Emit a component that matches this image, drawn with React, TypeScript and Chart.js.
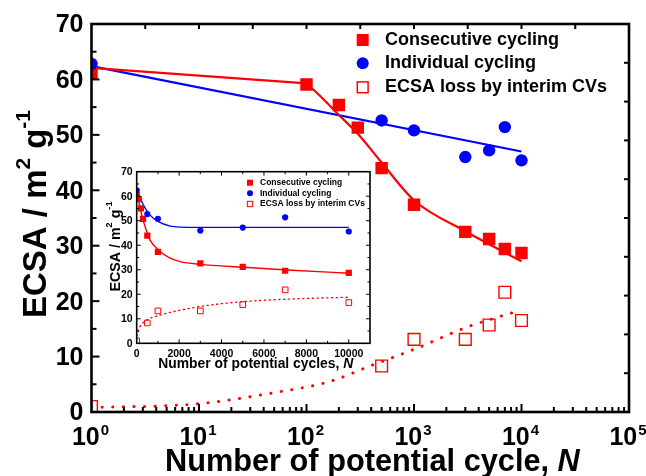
import React, { useEffect, useRef } from "react";
import { Chart, registerables } from "chart.js";
Chart.register(...registerables);

const FONT = '"Liberation Sans", Arial, Helvetica, sans-serif';
const RED = "#ff0000";
const BLUE = "#0000ff";

// ---------- main plot (log x) ----------
const consecCycles = [1, 100, 200, 300, 500, 1000, 3000, 5000, 7000, 10000];
const consecECSA = [61, 59.1, 55.4, 51.3, 44, 37.4, 32.5, 31.2, 29.4, 28.7];
const indivCycles = [1, 500, 1000, 3000, 5000, 7000, 10000];
const indivECSA = [62.8, 52.6, 50.8, 46, 47.2, 51.4, 45.4];
const lossCycles = [1, 500, 1000, 3000, 5000, 7000, 10000];
const lossECSA = [1, 8.3, 13.1, 13.1, 15.7, 21.6, 16.5];

const consecFitHeadCycles = [1, 100];
const consecFitHeadECSA = [62.1, 59.3];
const consecFitCycles = [100, 134, 200, 300, 500, 1000, 3000, 10000];
const consecFitECSA = [59.3, 57.0, 53.6, 50.2, 45, 38.2, 32.6, 27.2];
const indivFitCycles = [1, 10000];
const indivFitECSA = [62.4, 47];
const lossFitCycles = [1, 10, 50, 165, 390, 1000, 3100, 6000, 10000];
const lossFitECSA = [0.8, 1.5, 3.5, 5.5, 8.3, 11.3, 15.3, 17.1, 18.4];

const mainYTicks = [0, 10, 20, 30, 40, 50, 60, 70];
const mainXDecades = [0, 1, 2, 3, 4, 5];

// ---------- inset plot (linear x) ----------
const insetConsecCycles = [0, 100, 200, 300, 500, 1000, 3000, 5000, 7000, 10000];
const insetConsecECSA = [60.5, 58.8, 55, 50.8, 43.9, 37.3, 32.6, 31.2, 29.6, 28.7];
const insetIndivCycles = [0, 500, 1000, 3000, 5000, 7000, 10000];
const insetIndivECSA = [62.4, 52.7, 50.8, 46, 47.2, 51.4, 45.6];
const insetLossCycles = [0, 500, 1000, 3000, 5000, 7000, 10000];
const insetLossECSA = [1, 8.3, 13.2, 13.2, 15.8, 21.8, 16.6];

const insetConsecFitCycles = [0, 236, 394, 630, 1024, 1575, 2047, 2992, 5039, 7087, 10000];
const insetConsecFitECSA = [62, 52.3, 47.6, 42.1, 38.1, 34.7, 33.3, 32.2, 31, 29.9, 28.6];
const insetIndivFitCycles = [0, 315, 630, 1024, 1575, 2047, 3000, 10000];
const insetIndivFitECSA = [62.8, 56.4, 52.3, 49.6, 47.8, 47.4, 47.3, 47.3];
const insetLossFitCycles = [0, 157, 472, 1024, 2990, 5040, 7090, 10000];
const insetLossFitECSA = [3, 6.8, 9.5, 11.3, 15, 17, 18, 18.8];

const insetXTicks = [0, 2000, 4000, 6000, 8000, 10000];
const insetYTicks = [0, 10, 20, 30, 40, 50, 60, 70];

const legendLabels = ["Consecutive cycling", "Individual cycling", "ECSA loss by interim CVs"];

const xy = (xs: number[], ys: number[]) => xs.map((x, i) => ({ x, y: ys[i] }));

type Part = { t: string; size: number; rise?: number; italic?: boolean };
const fnt = (p: Part) => `${p.italic ? "italic " : ""}bold ${p.size}px ${FONT}`;
function richWidth(ctx: CanvasRenderingContext2D, parts: Part[]) {
  let w = 0;
  for (const p of parts) {
    ctx.font = fnt(p);
    w += ctx.measureText(p.t).width;
  }
  return w;
}
function drawRich(ctx: CanvasRenderingContext2D, parts: Part[], x: number, y: number) {
  let cx = x;
  for (const p of parts) {
    ctx.font = fnt(p);
    ctx.fillText(p.t, cx, y - (p.rise || 0));
    cx += ctx.measureText(p.t).width;
  }
}
const scaleParts = (parts: Part[], k: number) =>
  parts.map((p) => ({ ...p, size: p.size * k, rise: (p.rise || 0) * k }));

function seg(ctx: CanvasRenderingContext2D, x1: number, y1: number, x2: number, y2: number) {
  ctx.beginPath();
  ctx.moveTo(x1, y1);
  ctx.lineTo(x2, y2);
  ctx.stroke();
}
function drawLegend(
  ctx: CanvasRenderingContext2D,
  mx: number,
  tx: number,
  rows: number[],
  size: number,
  mk: number
) {
  ctx.textAlign = "left";
  ctx.textBaseline = "middle";
  ctx.font = `bold ${size}px ${FONT}`;
  ctx.fillStyle = "#000";
  legendLabels.forEach((l, i) => ctx.fillText(l, tx, rows[i]));
  ctx.fillStyle = RED;
  ctx.fillRect(mx - mk / 2, rows[0] - mk / 2, mk, mk);
  ctx.fillStyle = BLUE;
  ctx.beginPath();
  ctx.arc(mx, rows[1], mk / 2, 0, Math.PI * 2);
  ctx.fill();
  ctx.strokeStyle = RED;
  ctx.lineWidth = Math.max(1, mk / 8);
  const o = mk * 0.9;
  ctx.strokeRect(mx - o / 2, rows[2] - o / 2, o, o);
}

const mainDecor = {
  id: "mainDecor",
  afterDatasetsDraw(chart: any) {
    const ctx: CanvasRenderingContext2D = chart.ctx;
    const a = chart.chartArea;
    const xs = chart.scales.x;
    const ys = chart.scales.y;
    ctx.save();
    ctx.strokeStyle = "#000";
    ctx.fillStyle = "#000";
    ctx.lineWidth = 2;
    for (let v = 5; v < 70; v += 5) {
      const y = ys.getPixelForValue(v);
      seg(ctx, a.left, y, a.left + (v % 10 === 0 ? 8 : 5), y);
    }
    for (let d = 0; d < 5; d++) {
      for (let m = 1; m <= 9; m++) {
        const v = m * Math.pow(10, d);
        if (v === 1) continue;
        const x = xs.getPixelForValue(v);
        seg(ctx, x, a.bottom, x, a.bottom - (m === 1 ? 8 : 5));
      }
    }
    for (let i = 1; i < 10; i++) {
      const x = a.left + ((a.right - a.left) * i) / 10;
      seg(ctx, x, a.top, x, a.top + 5);
      const y = a.top + ((a.bottom - a.top) * i) / 10;
      seg(ctx, a.right, y, a.right - 5, y);
    }
    ctx.lineWidth = 2.6;
    ctx.strokeRect(a.left, a.top, a.right - a.left, a.bottom - a.top);

    ctx.font = `bold 25px ${FONT}`;
    ctx.textAlign = "right";
    ctx.textBaseline = "middle";
    for (const v of mainYTicks) ctx.fillText(String(v), a.left - 8, ys.getPixelForValue(v) + 1.5);

    ctx.textAlign = "left";
    ctx.textBaseline = "alphabetic";
    for (const d of mainXDecades) {
      const x = xs.getPixelForValue(Math.pow(10, d));
      ctx.font = `bold 25px ${FONT}`;
      const w = ctx.measureText("10").width;
      ctx.font = `bold 15px ${FONT}`;
      const ws = ctx.measureText(String(d)).width;
      const x0 = x - (w + 1 + ws) / 2 - 1;
      ctx.font = `bold 25px ${FONT}`;
      ctx.fillText("10", x0, 445);
      ctx.font = `bold 15px ${FONT}`;
      ctx.fillText(String(d), x0 + w + 1, 435);
    }

    const base: Part[] = [
      { t: "Number of potential cycle, ", size: 30 },
      { t: "N", size: 30, italic: true },
    ];
    const w0 = richWidth(ctx, base);
    drawRich(ctx, scaleParts(base, 415 / w0), 165, 471);

    const yParts: Part[] = [
      { t: "ECSA / m", size: 30 },
      { t: "2", size: 19, rise: 15 },
      { t: " g", size: 30 },
      { t: "-1", size: 19, rise: 15 },
    ];
    const tw0 = richWidth(ctx, yParts);
    const yp = scaleParts(yParts, 208 / tw0);
    const tw = richWidth(ctx, yp);
    ctx.save();
    ctx.translate(46, 214);
    ctx.rotate(-Math.PI / 2);
    drawRich(ctx, yp, -tw / 2, 0);
    ctx.restore();

    drawLegend(ctx, 362.7, 385, [40, 63.3, 87.3], 18, 12);
    ctx.restore();
  },
};

const insetDecor = {
  id: "insetDecor",
  afterDatasetsDraw(chart: any) {
    const ctx: CanvasRenderingContext2D = chart.ctx;
    const a = chart.chartArea;
    const xs = chart.scales.x;
    const ys = chart.scales.y;
    ctx.save();
    ctx.strokeStyle = "#000";
    ctx.fillStyle = "#000";
    ctx.lineWidth = 1;
    for (let v = 1000; v < 11000; v += 1000) {
      const x = xs.getPixelForValue(v);
      const len = v % 2000 === 0 ? 4 : 2.5;
      seg(ctx, x, a.bottom, x, a.bottom - len);
      seg(ctx, x, a.top, x, a.top + len);
    }
    for (let v = 5; v < 70; v += 5) {
      const y = ys.getPixelForValue(v);
      const len = v % 10 === 0 ? 4 : 2.5;
      seg(ctx, a.left, y, a.left + len, y);
      seg(ctx, a.right, y, a.right - len, y);
    }
    ctx.lineWidth = 1.6;
    ctx.strokeRect(a.left, a.top, a.right - a.left, a.bottom - a.top);

    ctx.font = `bold 10.5px ${FONT}`;
    ctx.textAlign = "right";
    ctx.textBaseline = "middle";
    for (const v of insetYTicks) ctx.fillText(String(v), a.left - 4, ys.getPixelForValue(v) + 0.5);
    ctx.textAlign = "center";
    ctx.textBaseline = "alphabetic";
    for (const v of insetXTicks) ctx.fillText(String(v), xs.getPixelForValue(v), a.bottom + 14);

    const base: Part[] = [
      { t: "Number of potential cycles, ", size: 14 },
      { t: "N", size: 14, italic: true },
    ];
    ctx.textAlign = "left";
    const w0 = richWidth(ctx, base);
    drawRich(ctx, scaleParts(base, 195 / w0), 58.3, 213);

    const yParts: Part[] = [
      { t: "ECSA / m", size: 14 },
      { t: "2", size: 9, rise: 7 },
      { t: " g", size: 14 },
      { t: "-1", size: 9, rise: 7 },
    ];
    const tw0 = richWidth(ctx, yParts);
    const yp = scaleParts(yParts, 90 / tw0);
    const tw = richWidth(ctx, yp);
    ctx.save();
    ctx.translate(19.5, 91.5);
    ctx.rotate(-Math.PI / 2);
    drawRich(ctx, yp, -tw / 2, 0);
    ctx.restore();

    drawLegend(ctx, 150, 160, [27.7, 38.3, 49], 8.5, 6);
    ctx.restore();
  },
};

function pointSet(data: any[], style: string, r: number, color: string, filled: boolean, bw: number, order: number) {
  return {
    data,
    showLine: false,
    pointStyle: style,
    pointRadius: r,
    pointHoverRadius: r,
    pointBackgroundColor: filled ? color : "rgba(0,0,0,0)",
    pointBorderColor: color,
    pointBorderWidth: filled ? 0 : bw,
    borderColor: color,
    backgroundColor: color,
    clip: 0,
    order,
  };
}
function lineSet(data: any[], color: string, width: number, smooth: boolean, dash: number[] | null, order: number) {
  return {
    data,
    showLine: true,
    pointRadius: 0,
    pointHoverRadius: 0,
    borderColor: color,
    borderWidth: width,
    borderDash: dash || [],
    borderCapStyle: dash ? "round" : "butt",
    tension: smooth ? 0.4 : 0,
    cubicInterpolationMode: smooth ? "monotone" : "default",
    fill: false,
    clip: 0,
    order,
  };
}

export default function App() {
  const mainRef = useRef<HTMLCanvasElement>(null);
  const insetRef = useRef<HTMLCanvasElement>(null);

  useEffect(() => {
    const main = new Chart(mainRef.current as HTMLCanvasElement, {
      type: "line",
      data: {
        datasets: [
          pointSet(xy(indivCycles, indivECSA), "circle", 6.2, BLUE, true, 0, 0),
          pointSet(xy(consecCycles, consecECSA), "rect", 8.8, RED, true, 0, 1),
          pointSet(xy(lossCycles, lossECSA), "rect", 8.3, RED, false, 1.4, 2),
          lineSet(xy(consecFitHeadCycles, consecFitHeadECSA), RED, 2.2, false, null, 3),
          lineSet(xy(consecFitCycles, consecFitECSA), RED, 2.2, true, null, 4),
          lineSet(xy(indivFitCycles, indivFitECSA), BLUE, 2.2, false, null, 5),
          lineSet(xy(lossFitCycles, lossFitECSA), RED, 3, true, [0.1, 10.5], 6),
        ] as any,
      },
      options: {
        animation: false,
        responsive: false,
        maintainAspectRatio: false,
        events: [],
        layout: { padding: { left: 91.5, top: 24, right: 17, bottom: 64 } },
        scales: {
          x: { type: "logarithmic", min: 1, max: 100000, display: false },
          y: { type: "linear", min: 0, max: 70, display: false },
        },
        plugins: { legend: { display: false }, tooltip: { enabled: false } },
      } as any,
      plugins: [mainDecor],
    });

    const inset = new Chart(insetRef.current as HTMLCanvasElement, {
      type: "line",
      data: {
        datasets: [
          pointSet(xy(insetIndivCycles, insetIndivECSA), "circle", 3.1, BLUE, true, 0, 0),
          pointSet(xy(insetConsecCycles, insetConsecECSA), "rect", 4.4, RED, true, 0, 1),
          pointSet(xy(insetLossCycles, insetLossECSA), "rect", 4, RED, false, 1, 2),
          lineSet(xy(insetConsecFitCycles, insetConsecFitECSA), RED, 1.4, true, null, 3),
          lineSet(xy(insetIndivFitCycles, insetIndivFitECSA), BLUE, 1.4, true, null, 4),
          lineSet(xy(insetLossFitCycles, insetLossFitECSA), RED, 1.3, true, [1.3, 3.5], 5),
        ] as any,
      },
      options: {
        animation: false,
        responsive: false,
        maintainAspectRatio: false,
        events: [],
        layout: { padding: { left: 36.7, top: 16.7, right: 10, bottom: 36.7 } },
        scales: {
          x: { type: "linear", min: 0, max: 11000, display: false },
          y: { type: "linear", min: 0, max: 70, display: false },
        },
        plugins: { legend: { display: false }, tooltip: { enabled: false } },
      } as any,
      plugins: [insetDecor],
    });

    return () => {
      main.destroy();
      inset.destroy();
    };
  }, []);

  return (
    <div style={{ position: "absolute", left: 0, top: 0, width: 646, height: 476, background: "#fff" }}>
      <canvas ref={mainRef} width={646} height={476} style={{ position: "absolute", left: 0, top: 0 }} />
      <canvas ref={insetRef} width={280} height={225} style={{ position: "absolute", left: 100, top: 155 }} />
    </div>
  );
}
